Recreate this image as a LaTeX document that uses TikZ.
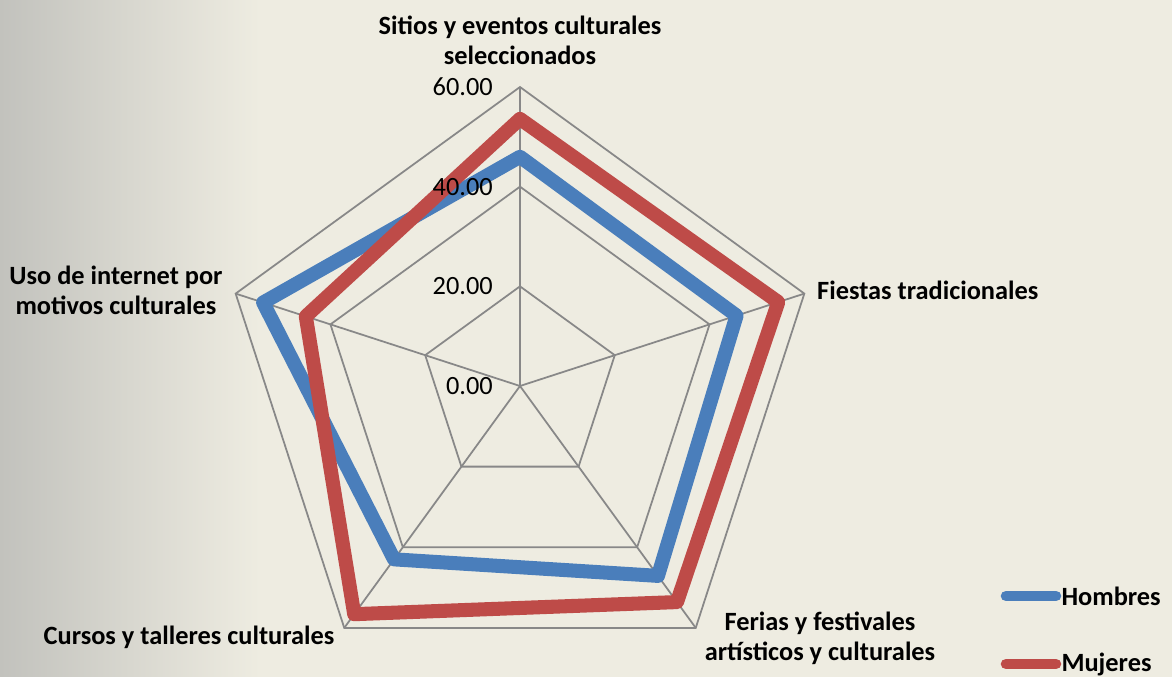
\documentclass[tikz,border=0pt]{standalone}
\usepackage{fontspec}
\setmainfont{Carlito}
\usepackage{tikz}
\usetikzlibrary{positioning}

\definecolor{fondo}{HTML}{EEECE1}
\definecolor{textura}{HTML}{C2C2BD}
\definecolor{rejilla}{HTML}{888888}
\definecolor{hombres}{HTML}{4A7EBB}
\definecolor{mujeres}{HTML}{BE4B48}

\tikzset{
	rejilla/.style={draw=rejilla, line width=1.5pt},
	serie/.style={line width=12pt, line join=round},
	muestra/.style={line width=9pt, line cap=round},
	categoria/.style={font=\fontsize{22.5}{25.6}\selectfont\bfseries, align=center},
	valor/.style={font=\fontsize{22.5}{25.6}\selectfont, anchor=east, inner sep=0pt},
}

\begin{document}
\begin{tikzpicture}[x=0.03cm, y=0.03cm]
	\def\k{4.983}
	\useasboundingbox (-520,-291) rectangle (652,386);
	\fill[fondo] (-520,-291) rectangle (652,386);
	\shade[left color=textura, right color=fondo] (-520,-291) rectangle (-260,386);
	\coordinate (o) at (0,0);
	\foreach \i/\a/\h/\m in {1/90/46.0/53.6, 2/18/45.7/54.5, 3/-54/47.1/53.6, 4/-126/43.0/56.6, 5/162/54.2/45.2}
	{
		\coordinate (c\i) at (\a:20*\k);
		\coordinate (d\i) at (\a:40*\k);
		\coordinate (e\i) at (\a:60*\k);
		\coordinate (h\i) at (\a:\h*\k);
		\coordinate (m\i) at (\a:\m*\k);
		\draw[rejilla] (o) -- (e\i);
	}
	\foreach \r in {c,d,e}
		\draw[rejilla] (\r1) -- (\r2) -- (\r3) -- (\r4) -- (\r5) -- cycle;
	\draw[serie, hombres] (h1) -- (h2) -- (h3) -- (h4) -- (h5) -- cycle;
	\draw[serie, mujeres] (m1) -- (m2) -- (m3) -- (m4) -- (m5) -- cycle;
	\foreach \v in {0,20,40,60}
		\node[valor] (v\v) at (-27,\v*\k) {\v.00};
	\node[categoria] (sitios) at (0,346) {Sitios y eventos culturales\\seleccionados};
	\node[categoria, anchor=west, inner sep=0pt] (fiestas) at (297,96) {Fiestas tradicionales};
	\node[categoria] (ferias) at (300,-252) {Ferias y festivales\\artísticos y culturales};
	\node[categoria] (cursos) at (-331,-251) {Cursos y talleres culturales};
	\node[categoria] (internet) at (-404,96) {Uso de internet por\\motivos culturales};
	% leyenda
	\coordinate (lh) at (486,-210);
	\coordinate (lm) at (486,-278);
	\draw[muestra, hombres] (lh) -- ++(50,0) coordinate (lh2);
	\draw[muestra, mujeres] (lm) -- ++(50,0) coordinate (lm2);
	\node[categoria, inner sep=0pt, right=4.5pt of lh2] (hombrestxt) {Hombres};
	\node[categoria, inner sep=0pt, right=4.5pt of lm2] (mujerestxt) {Mujeres};
\end{tikzpicture}
\end{document}
